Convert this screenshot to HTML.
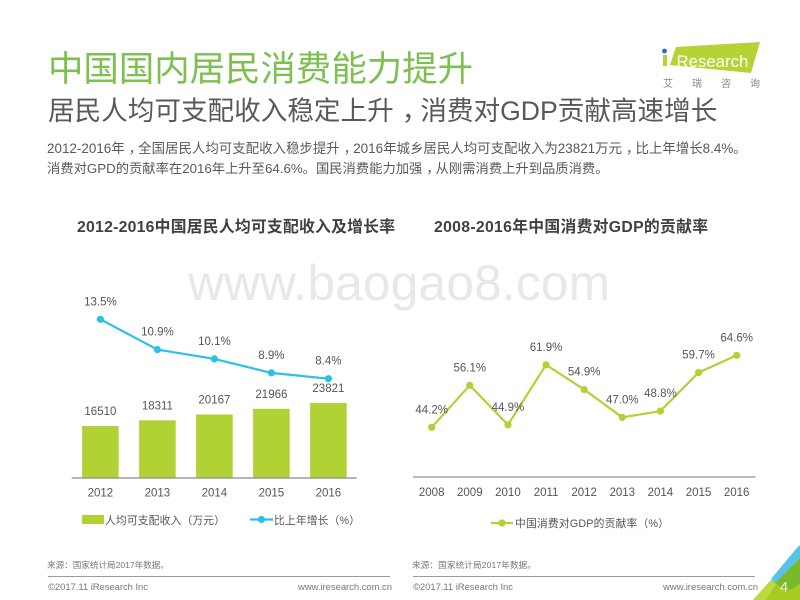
<!DOCTYPE html>
<html lang="zh">
<head>
<meta charset="utf-8">
<title>中国国内居民消费能力提升</title>
<style>
html,body{margin:0;padding:0;background:#fff;}
svg{display:block;font-family:"Liberation Sans","Noto Sans CJK SC",sans-serif;}
.lbl{font-size:11.5px;fill:#555;text-anchor:middle;dominant-baseline:central;}
</style>
</head>
<body>
<svg id="slide" width="800" height="600" viewBox="0 0 800 600" xmlns="http://www.w3.org/2000/svg">
<rect width="800" height="600" fill="#fff"/>
<text x="188" y="300" font-size="49.6" fill="#e8e8e8" textLength="422">www.baogao8.com</text>
<text x="48" y="81" font-size="35.4" fill="#7cc04f" textLength="425">中国国内居民消费能力提升</text>
<text x="48" y="120" font-size="26.6" fill="#595959">居民人均可支配收入稳定上升<tspan dx="0.3em">&#xFF0C;</tspan><tspan dx="-0.3em">消费对GDP贡献高速增长</tspan></text>
<text x="47" y="153" font-size="13.45" fill="#595959">2012-2016年<tspan dx="0.3em">&#xFF0C;</tspan><tspan dx="-0.3em">全国居民人均可支配收入稳步提升</tspan><tspan dx="0.3em">&#xFF0C;</tspan><tspan dx="-0.3em">2016年城乡居民人均可支配收入为23821万元</tspan><tspan dx="0.3em">&#xFF0C;</tspan><tspan dx="-0.3em">比上年增长8.4%。</tspan></text>
<text x="47" y="173" font-size="13.3" fill="#595959">消费对GPD的贡献率在2016年上升至64.6%。国民消费能力加强<tspan dx="0.3em">&#xFF0C;</tspan><tspan dx="-0.3em">从刚需消费上升到品质消费。</tspan></text>
<text x="77" y="232" font-size="15.8" font-weight="700" fill="#404040" textLength="318">2012-2016中国居民人均可支配收入及增长率</text>
<text x="434" y="232" font-size="15.8" font-weight="700" fill="#404040" textLength="274">2008-2016年中国消费对GDP的贡献率</text>

<g id="left-chart"></g>
<g id="right-chart"></g>

<g>
<rect x="82" y="515" width="22" height="9" fill="#b0d235"/>
<text x="105" y="524" font-size="10.8" fill="#555" textLength="120">人均可支配收入&#xFF08;万元&#xFF09;</text>
<line x1="250" y1="519.5" x2="273" y2="519.5" stroke="#29c1e8" stroke-width="2.2"/>
<circle cx="261.5" cy="519.5" r="3.6" fill="#29c1e8"/>
<text x="274" y="524" font-size="10.8" fill="#555" textLength="86">比上年增长&#xFF08;%&#xFF09;</text>
</g>
<g>
<line x1="491" y1="523" x2="513" y2="523" stroke="#b0d235" stroke-width="2.2"/>
<circle cx="502" cy="523" r="3.6" fill="#b0d235"/>
<text x="515" y="527" font-size="10.8" fill="#555" textLength="154">中国消费对GDP的贡献率&#xFF08;%&#xFF09;</text>
</g>

<text x="47" y="568" font-size="8.6" fill="#777" textLength="122">来源&#xFF1A;国家统计局2017年数据。</text>
<text x="412" y="568" font-size="8.6" fill="#777" textLength="124">来源&#xFF1A;国家统计局2017年数据。</text>
<line x1="48" y1="576.5" x2="390" y2="576.5" stroke="#9a9a9a" stroke-width="1"/>
<line x1="413" y1="576.5" x2="755" y2="576.5" stroke="#9a9a9a" stroke-width="1"/>
<text x="48" y="590" font-size="9.5" fill="#777" textLength="100">©2017.11 iResearch Inc</text>
<text x="298" y="590" font-size="9.5" fill="#777" textLength="94">www.iresearch.com.cn</text>
<text x="413" y="590" font-size="9.5" fill="#777" textLength="100">©2017.11 iResearch Inc</text>
<text x="663" y="590" font-size="9.5" fill="#777" textLength="95">www.iresearch.com.cn</text>

<g>
<polygon points="771,580 753,600 800,600 800,583 775,582" fill="#a6cc24"/>
<polygon points="771,580 753,600 766,600 776,584" fill="#bcd93f"/>
<polygon points="775,582 800,558 800,584 786,592" fill="#7ab82e"/>
<polygon points="796,549 800,545 800,558 775,583 771,579" fill="#55c3ea"/>
<text x="784" y="592" font-size="15" fill="#f0f5d0" text-anchor="middle">4</text>
</g>

<g>
<circle cx="664.5" cy="51" r="2.4" fill="#2f6db0"/>
<polygon points="663,55 667,55 667,66 663,66" fill="#b5d334"/>
<polygon points="676,47 760,42 751,73 670,65" fill="#b5d334"/>
<text x="676.5" y="67" font-size="16.8" fill="#fff">Research</text>
<text x="663" y="87" font-size="10" fill="#888" letter-spacing="19">艾瑞咨询</text>
</g>
</svg>
<script>
var incomeYears = ['2012', '2013', '2014', '2015', '2016'];
var incomeValues = [16510, 18311, 20167, 21966, 23821];
var growthValues = [13.5, 10.9, 10.1, 8.9, 8.4];
var gdpYears = ['2008', '2009', '2010', '2011', '2012', '2013', '2014', '2015', '2016'];
var gdpValues = [44.2, 56.1, 44.9, 61.9, 54.9, 47.0, 48.8, 59.7, 64.6];

var NS = 'http://www.w3.org/2000/svg';
function mk(parent, tag, attrs, txt) {
  var e = document.createElementNS(NS, tag);
  for (var k in attrs) e.setAttribute(k, attrs[k]);
  if (txt !== undefined) e.textContent = txt;
  parent.appendChild(e);
  return e;
}

/* left chart axis functions */
var leftG = document.getElementById('left-chart');
function lx(i) { return 100.4 + i * 57; }
function barY(v) { return 478 - v * 0.00315; }
function growthY(v) { return 319.3 + (13.5 - v) * 11.65; }

incomeValues.forEach(function (v, i) {
  var b = mk(leftG, 'rect', { x: lx(i) - 18.3, y: barY(v), width: 36.6, height: 478 - barY(v), fill: '#b0d235' });
  
  
  var t = mk(leftG, 'text', { x: lx(i), y: barY(v) - 14, 'class': 'lbl' }, String(v));
  
  
  var y = mk(leftG, 'text', { x: lx(i), y: 493.5, 'class': 'lbl' }, incomeYears[i]);
  
  
});
var la = mk(leftG, 'line', { x1: 71.7, y1: 478, x2: 356.7, y2: 478, stroke: '#8a8a8a', 'stroke-width': 1.2 });


var gl = mk(leftG, 'polyline', {
  points: growthValues.map(function (v, i) { return lx(i) + ',' + growthY(v); }).join(' '),
  fill: 'none', stroke: '#29c1e8', 'stroke-width': 2.2
});


growthValues.forEach(function (v, i) {
  var c = mk(leftG, 'circle', { cx: lx(i), cy: growthY(v), r: 3.6, fill: '#29c1e8' });
  
  
  var t = mk(leftG, 'text', { x: lx(i), y: growthY(v) - 17, 'class': 'lbl' }, v.toFixed(1) + '%');
  
  
});

/* right chart axis functions */
var rightG = document.getElementById('right-chart');
function rx(i) { return 431.7 + i * 38.12; }
function gdpY(v) { return 355.3 + (64.6 - v) * 3.53; }

var ra = mk(rightG, 'line', { x1: 413, y1: 477, x2: 755.5, y2: 477, stroke: '#777', 'stroke-width': 1 });


var rl = mk(rightG, 'polyline', {
  points: gdpValues.map(function (v, i) { return rx(i) + ',' + gdpY(v); }).join(' '),
  fill: 'none', stroke: '#b0d235', 'stroke-width': 2.2
});


gdpValues.forEach(function (v, i) {
  var c = mk(rightG, 'circle', { cx: rx(i), cy: gdpY(v), r: 3.6, fill: '#b0d235' });
  
  
  var t = mk(rightG, 'text', { x: rx(i), y: gdpY(v) - 17, 'class': 'lbl' }, v.toFixed(1) + '%');
  
  
  var y = mk(rightG, 'text', { x: rx(i), y: 493, 'class': 'lbl' }, gdpYears[i]);
  
  
});
</script>
</body>
</html>
